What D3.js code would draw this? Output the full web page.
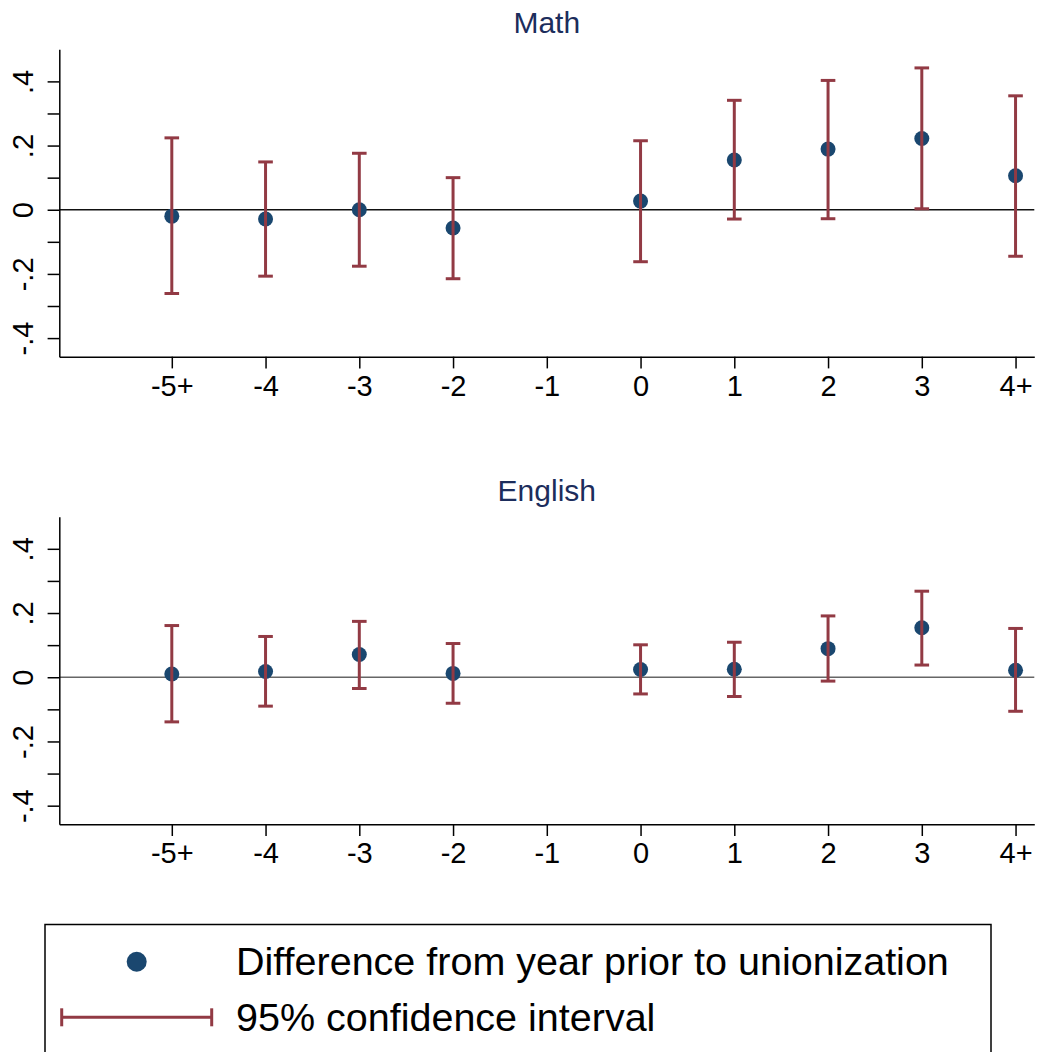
<!DOCTYPE html>
<html>
<head>
<meta charset="utf-8">
<script src="https://cdn.jsdelivr.net/npm/d3@7"></script>
<style>
body { margin: 0; background: #fff; }
svg { display: block; font-family: "Liberation Sans", Arial, sans-serif; }
.axis path, .axis line { stroke: #000; stroke-width: 1.5; }
.axis text { fill: #000; font-size: 29px; }
</style>
</head>
<body>
<div class="chart-container"></div>
<script>
// event time categories, -1 is the reference year (no estimate)
var periods = ["-5+", "-4", "-3", "-2", "-1", "0", "1", "2", "3", "4+"]
var periodPos = [-5, -4, -3, -2, -1, 0, 1, 2, 3, 4]

var mathEst = [-0.020, -0.029, 0.000, -0.057, null, 0.027, 0.155, 0.189, 0.222, 0.106]
var mathLo  = [-0.261, -0.207, -0.176, -0.215, null, -0.162, -0.029, -0.028, 0.003, -0.145]
var mathHi  = [0.224, 0.149, 0.176, 0.100, null, 0.215, 0.341, 0.403, 0.442, 0.355]

var engEst = [0.010, 0.018, 0.071, 0.012, null, 0.024, 0.025, 0.089, 0.154, 0.022]
var engLo  = [-0.139, -0.090, -0.035, -0.081, null, -0.052, -0.060, -0.012, 0.038, -0.106]
var engHi  = [0.161, 0.127, 0.174, 0.105, null, 0.101, 0.109, 0.191, 0.268, 0.152]

var yTicks = [-0.4, -0.3, -0.2, -0.1, 0, 0.1, 0.2, 0.3, 0.4]
var yLabels = {"-0.4": "-.4", "-0.2": "-.2", "0": "0", "0.2": ".2", "0.4": ".4"}

var legendItems = ["Difference from year prior to unionization", "95% confidence interval"]

var width = 1037, height = 1052
var dotColor = "#1a476f", ciColor = "#923a44", titleColor = "#1c2d5c"

var svg = d3.select('.chart-container')
    .append('svg')
    .attr('width', width)
    .attr('height', height)

svg.append('rect').attr('width', width).attr('height', height).attr('fill', '#fff')

var x_scale = d3.scaleLinear()
    .domain([-6.2, 4.2])
    .range([59.3, 1034.3])

function drawPanel(title, est, lo, hi, top, bottom, zeroColor) {
    var y_scale = d3.scaleLinear()
        .domain([-0.458, 0.5])
        .range([bottom, top])

    var rows = periods.map(function(p, i) {
        return {label: p, pos: periodPos[i], est: est[i], lo: lo[i], hi: hi[i]}
    }).filter(function(d) { return d.est !== null })

    var g = svg.append('g')

    g.append('text')
        .attr('x', (x_scale.range()[0] + x_scale.range()[1]) / 2)
        .attr('y', top - 16)
        .attr('text-anchor', 'middle')
        .attr('fill', titleColor)
        .style('font-size', '30px')
        .text(title)

    // zero reference line
    g.append('line')
        .attr('x1', x_scale.range()[0])
        .attr('x2', x_scale.range()[1])
        .attr('y1', y_scale(0))
        .attr('y2', y_scale(0))
        .attr('stroke', zeroColor)
        .attr('stroke-width', 1.3)

    var yAxis = d3.axisLeft(y_scale)
        .tickValues(yTicks)
        .tickSize(11.7)
        .tickSizeOuter(0)
        .tickPadding(0)
        .tickFormat(function(d) { return yLabels[String(+d.toFixed(1))] || "" })

    var ya = g.append('g')
        .attr('class', 'axis')
        .attr('transform', 'translate(' + x_scale.range()[0] + ',0)')
        .call(yAxis)
    ya.selectAll('text')
        .attr('transform', 'rotate(-90)')
        .attr('x', 0)
        .attr('y', -26)
        .attr('dy', 0)
        .attr('text-anchor', 'middle')

    var xAxis = d3.axisBottom(x_scale)
        .tickValues(periodPos)
        .tickSize(11.7)
        .tickSizeOuter(0)
        .tickPadding(0)
        .tickFormat(function(d, i) { return periods[i] })

    var xa = g.append('g')
        .attr('class', 'axis')
        .attr('transform', 'translate(0,' + bottom + ')')
        .call(xAxis)
    xa.selectAll('text')
        .attr('y', 39)
        .attr('dy', 0)

    g.append('g')
        .selectAll('circle')
        .data(rows)
        .enter()
        .append('circle')
        .attr('cx', function(d) { return x_scale(d.pos) })
        .attr('cy', function(d) { return y_scale(d.est) })
        .attr('r', 7.5)
        .attr('fill', dotColor)

    var bars = g.append('g')
        .attr('stroke', ciColor)
        .attr('stroke-width', 3)
        .selectAll('g')
        .data(rows)
        .enter()
        .append('g')
    bars.append('line')
        .attr('x1', function(d) { return x_scale(d.pos) })
        .attr('x2', function(d) { return x_scale(d.pos) })
        .attr('y1', function(d) { return y_scale(d.lo) })
        .attr('y2', function(d) { return y_scale(d.hi) })
    bars.append('line')
        .attr('x1', function(d) { return x_scale(d.pos) - 7.3 })
        .attr('x2', function(d) { return x_scale(d.pos) + 7.3 })
        .attr('y1', function(d) { return y_scale(d.hi) })
        .attr('y2', function(d) { return y_scale(d.hi) })
    bars.append('line')
        .attr('x1', function(d) { return x_scale(d.pos) - 7.3 })
        .attr('x2', function(d) { return x_scale(d.pos) + 7.3 })
        .attr('y1', function(d) { return y_scale(d.lo) })
        .attr('y2', function(d) { return y_scale(d.lo) })
}

drawPanel("Math", mathEst, mathLo, mathHi, 49.3, 356.7, "#111")
drawPanel("English", engEst, engLo, engHi, 516.7, 824.3, "#666")

// legend
var legend = svg.append('g')
legend.append('rect')
    .attr('x', 45)
    .attr('y', 924.5)
    .attr('width', 946)
    .attr('height', 200)
    .attr('fill', 'none')
    .attr('stroke', '#000')
    .attr('stroke-width', 1.5)

legend.append('circle')
    .attr('cx', 136.7)
    .attr('cy', 961.7)
    .attr('r', 10)
    .attr('fill', dotColor)

var key = legend.append('g').attr('stroke', ciColor).attr('stroke-width', 3)
key.append('line').attr('x1', 61.7).attr('x2', 211.7).attr('y1', 1017.3).attr('y2', 1017.3)
key.append('line').attr('x1', 61.7).attr('x2', 61.7).attr('y1', 1008.3).attr('y2', 1026.3)
key.append('line').attr('x1', 211.7).attr('x2', 211.7).attr('y1', 1008.3).attr('y2', 1026.3)

legend.selectAll('.legend-text')
    .data(legendItems)
    .enter()
    .append('text')
    .attr('class', 'legend-text')
    .attr('x', 236)
    .attr('y', function(d, i) { return 975 + i * 56 })
    .style('font-size', '39.5px')
    .attr('fill', '#000')
    .text(function(d) { return d })
</script>
</body>
</html>
